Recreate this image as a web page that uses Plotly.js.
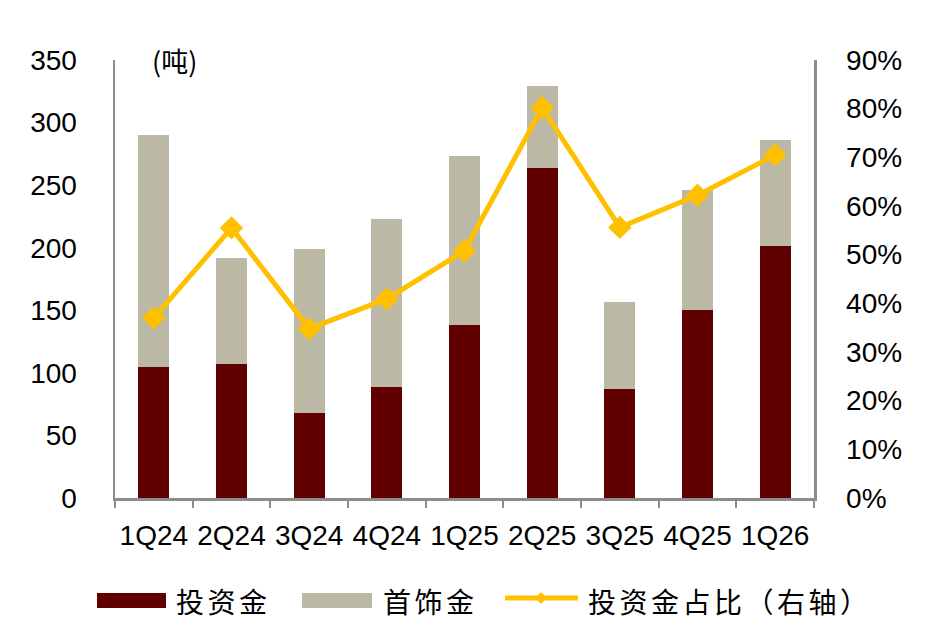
<!DOCTYPE html>
<html>
<head>
<meta charset="utf-8">
<script src="https://cdn.plot.ly/plotly-3.0.1.min.js"></script>
<style>html,body{margin:0;padding:0;background:#fff;}#chart{width:925px;height:637px;}</style>
</head>
<body>
<div id="chart"></div>
<script>
const categories = ['1Q24','2Q24','3Q24','4Q24','1Q25','2Q25','3Q25','4Q25','1Q26'];
const investGold = [105,107,68,89,138,264,87,150,201];
const jewelryGold = [185,85,131,134,135,65,70,96,85];
const investShare = [0.37,0.555,0.348,0.409,0.508,0.802,0.556,0.622,0.705];
const seriesNames = ['投资金','首饰金','投资金占比（右轴）'];
const unitLabel = '(吨)';

const RED = '#600000', GREY = '#BBB9A6', YELLOW = '#FFC000', AXIS = '#8C8C8C';
const numFont = {family:'Liberation Sans, Arial, sans-serif', size:28, color:'#000'};
const cjkFont = {family:'Noto Sans CJK SC, sans-serif', size:28, color:'#000'};
const spaced = s => '<span style="letter-spacing:3.5px">' + s + '</span>';

const traces = [
  {type:'bar', name:seriesNames[0], x:categories, y:investGold, marker:{color:RED, line:{width:0}}, showlegend:false},
  {type:'bar', name:seriesNames[1], x:categories, y:jewelryGold, marker:{color:GREY, line:{width:0}}, showlegend:false},
  {type:'scatter', mode:'lines+markers', name:seriesNames[2], x:categories, y:investShare, yaxis:'y2',
   line:{color:YELLOW, width:5}, marker:{symbol:'diamond', size:18, color:YELLOW}, showlegend:false}
];

// pixel -> paper helpers (plot area 115..814 x 60..498)
const PX = p => (p-115)/699;
const PY = p => (498-p)/438;

const layout = {
  width:925, height:637,
  margin:{l:115, r:111, t:60, b:139, pad:0},
  paper_bgcolor:'#fff', plot_bgcolor:'#fff',
  barmode:'stack', bargap:0.6,
  showlegend:false,
  xaxis:{type:'category', range:[-0.5, categories.length-0.5], showline:true, linecolor:AXIS, linewidth:2.5,
         ticks:'outside', tickson:'boundaries', tickangle:0,
         ticklen:7, tickwidth:2, tickcolor:AXIS, showgrid:false, zeroline:false, tickfont:numFont, ticklabelstandoff:11},
  yaxis:{range:[0,350], dtick:50, showline:true, linecolor:AXIS, linewidth:2.5, ticks:'', showgrid:false,
         zeroline:false, tickfont:numFont, ticklabelstandoff:30},
  yaxis2:{range:[0,0.9], dtick:0.1, tickformat:'.0%', overlaying:'y', side:'right', showline:true, linecolor:AXIS,
          linewidth:2.5, ticks:'', showgrid:false, zeroline:false, tickfont:numFont, ticklabelstandoff:24},
  shapes:[
    {type:'rect', xref:'paper', yref:'paper', x0:PX(97), x1:PX(166), y0:PY(608), y1:PY(593), fillcolor:RED, line:{width:0}},
    {type:'rect', xref:'paper', yref:'paper', x0:PX(302), x1:PX(372), y0:PY(608), y1:PY(593), fillcolor:GREY, line:{width:0}},
    {type:'line', xref:'paper', yref:'paper', x0:PX(505), x1:PX(578), y0:PY(598), y1:PY(598), line:{color:YELLOW, width:5}},
    {type:'path', xref:'paper', yref:'paper', xsizemode:'pixel', ysizemode:'pixel', xanchor:PX(541), yanchor:PY(598),
     path:'M0,-6 L6,0 L0,6 L-6,0 Z', fillcolor:YELLOW, line:{width:0}}
  ],
  annotations:[
    {text:unitLabel, xref:'paper', yref:'paper', x:PX(174), y:PY(60), xanchor:'center', yanchor:'middle', showarrow:false,
     font:{family:'Noto Sans CJK SC, sans-serif', size:27, color:'#000'}},
    {text:spaced(seriesNames[0]), xref:'paper', yref:'paper', x:PX(174), y:PY(601), xanchor:'left', yanchor:'middle', showarrow:false, font:cjkFont},
    {text:spaced(seriesNames[1]), xref:'paper', yref:'paper', x:PX(381), y:PY(601), xanchor:'left', yanchor:'middle', showarrow:false, font:cjkFont},
    {text:spaced(seriesNames[2]), xref:'paper', yref:'paper', x:PX(586), y:PY(601), xanchor:'left', yanchor:'middle', showarrow:false, font:cjkFont}
  ]
};

Plotly.newPlot('chart', traces, layout, {displayModeBar:false, staticPlot:true});
</script>
</body>
</html>
